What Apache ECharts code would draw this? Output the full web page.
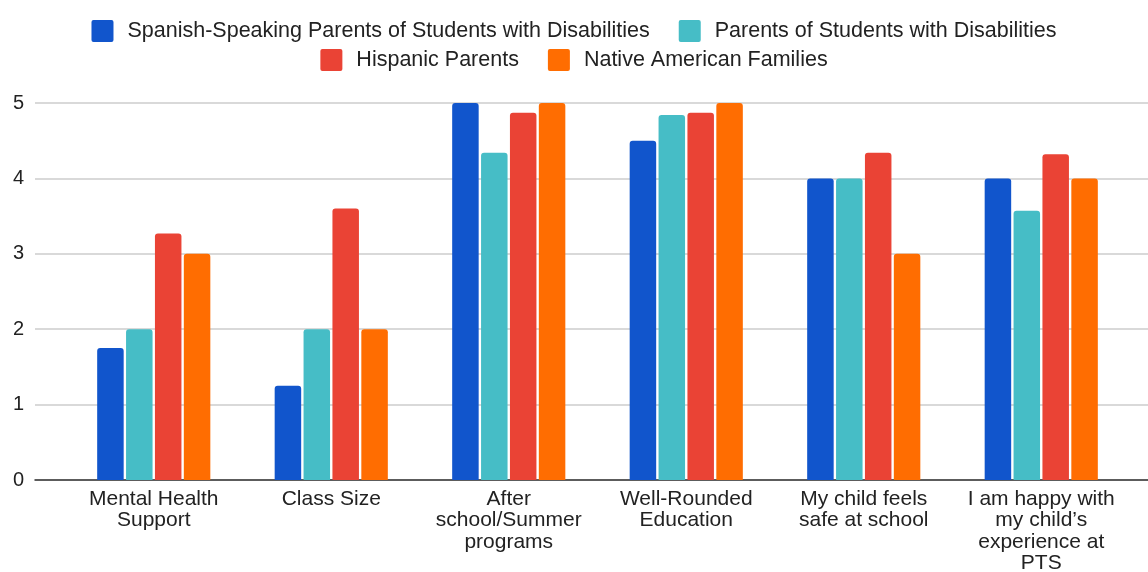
<!DOCTYPE html>
<html><head><meta charset="utf-8">
<script src="https://cdn.jsdelivr.net/npm/echarts@6/dist/echarts.min.js"></script>
<style>html,body{margin:0;padding:0;background:#fff}#c{width:1148px;height:572px}</style>
</head><body><div id="c"></div>
<script>
const categories = ["Mental Health\nSupport", "Class Size", "After\nschool/Summer\nprograms", "Well-Rounded\nEducation", "My child feels\nsafe at school", "I am happy with\nmy child\u2019s\nexperience at\nPTS"];
const seriesNames = ["Spanish-Speaking Parents of Students with Disabilities", "Parents of Students with Disabilities", "Hispanic Parents", "Native American Families"];
const spanishSpeakingSWD = [1.75, 1.25, 5, 4.5, 4, 4];
const parentsSWD = [2, 2, 4.34, 4.84, 4, 3.57];
const hispanicParents = [3.27, 3.6, 4.87, 4.87, 4.34, 4.32];
const nativeAmerican = [3, 2, 5, 5, 3, 4];
const yTicks = [0, 1, 2, 3, 4, 5];
const colors = ["#1155cc", "#46bdc6", "#ea4335", "#ff6d01"];
const values = [spanishSpeakingSWD, parentsSWD, hispanicParents, nativeAmerican];

const font = "'Liberation Sans', Arial, sans-serif";
const chart = echarts.init(document.getElementById('c'));
const legendCommon = {
  left: 'center', itemWidth: 22, itemHeight: 22, itemGap: 29,
  icon: 'path://M2,0 H20 Q22,0 22,2 V20 Q22,22 20,22 H2 Q0,22 0,20 V2 Q0,0 2,0 Z',
  textStyle: { fontFamily: font, fontSize: 21.5, color: '#222', padding: [0, 0, 0, 9] }
};
chart.setOption({
  animation: false,
  color: colors,
  legend: [
    Object.assign({ top: 15, data: seriesNames.slice(0, 2) }, legendCommon),
    Object.assign({ top: 44, data: seriesNames.slice(2) }, legendCommon)
  ],
  grid: [
    { left: 65, right: 18, top: 103, bottom: 92, containLabel: false, outerBoundsMode: 'none' },
    { left: 35, right: 0, top: 103, bottom: 92, containLabel: false, outerBoundsMode: 'none' }
  ],
  xAxis: [
    { type: 'category', gridIndex: 0, data: categories,
      axisLine: { show: false }, axisTick: { show: false },
      axisLabel: { interval: 0, margin: 8, fontFamily: font, fontSize: 21, color: '#222', lineHeight: 21.5 } },
    { type: 'category', gridIndex: 1, data: [''],
      axisLine: { show: true, lineStyle: { color: '#333', width: 1.5 } }, axisTick: { show: false }, axisLabel: { show: false } }
  ],
  yAxis: [
    { type: 'value', gridIndex: 0, min: 0, max: 5, interval: 1, show: false, splitLine: { show: false } },
    { type: 'value', gridIndex: 1, min: 0, max: 5, interval: 1,
      axisLine: { show: false }, axisTick: { show: false },
      axisLabel: { margin: 11, fontFamily: font, fontSize: 20, color: '#222',
        formatter: v => yTicks.includes(v) ? String(v) : '' },
      splitLine: { lineStyle: { color: '#cccccc', width: 1.5 } } }
  ],
  series: seriesNames.map((n, i) => ({
    name: n, type: 'bar', xAxisIndex: 0, yAxisIndex: 0, data: values[i],
    barWidth: 26.5, barGap: '9%',
    itemStyle: { color: colors[i], borderRadius: [3, 3, 0, 0] }
  }))
});
</script></body></html>
